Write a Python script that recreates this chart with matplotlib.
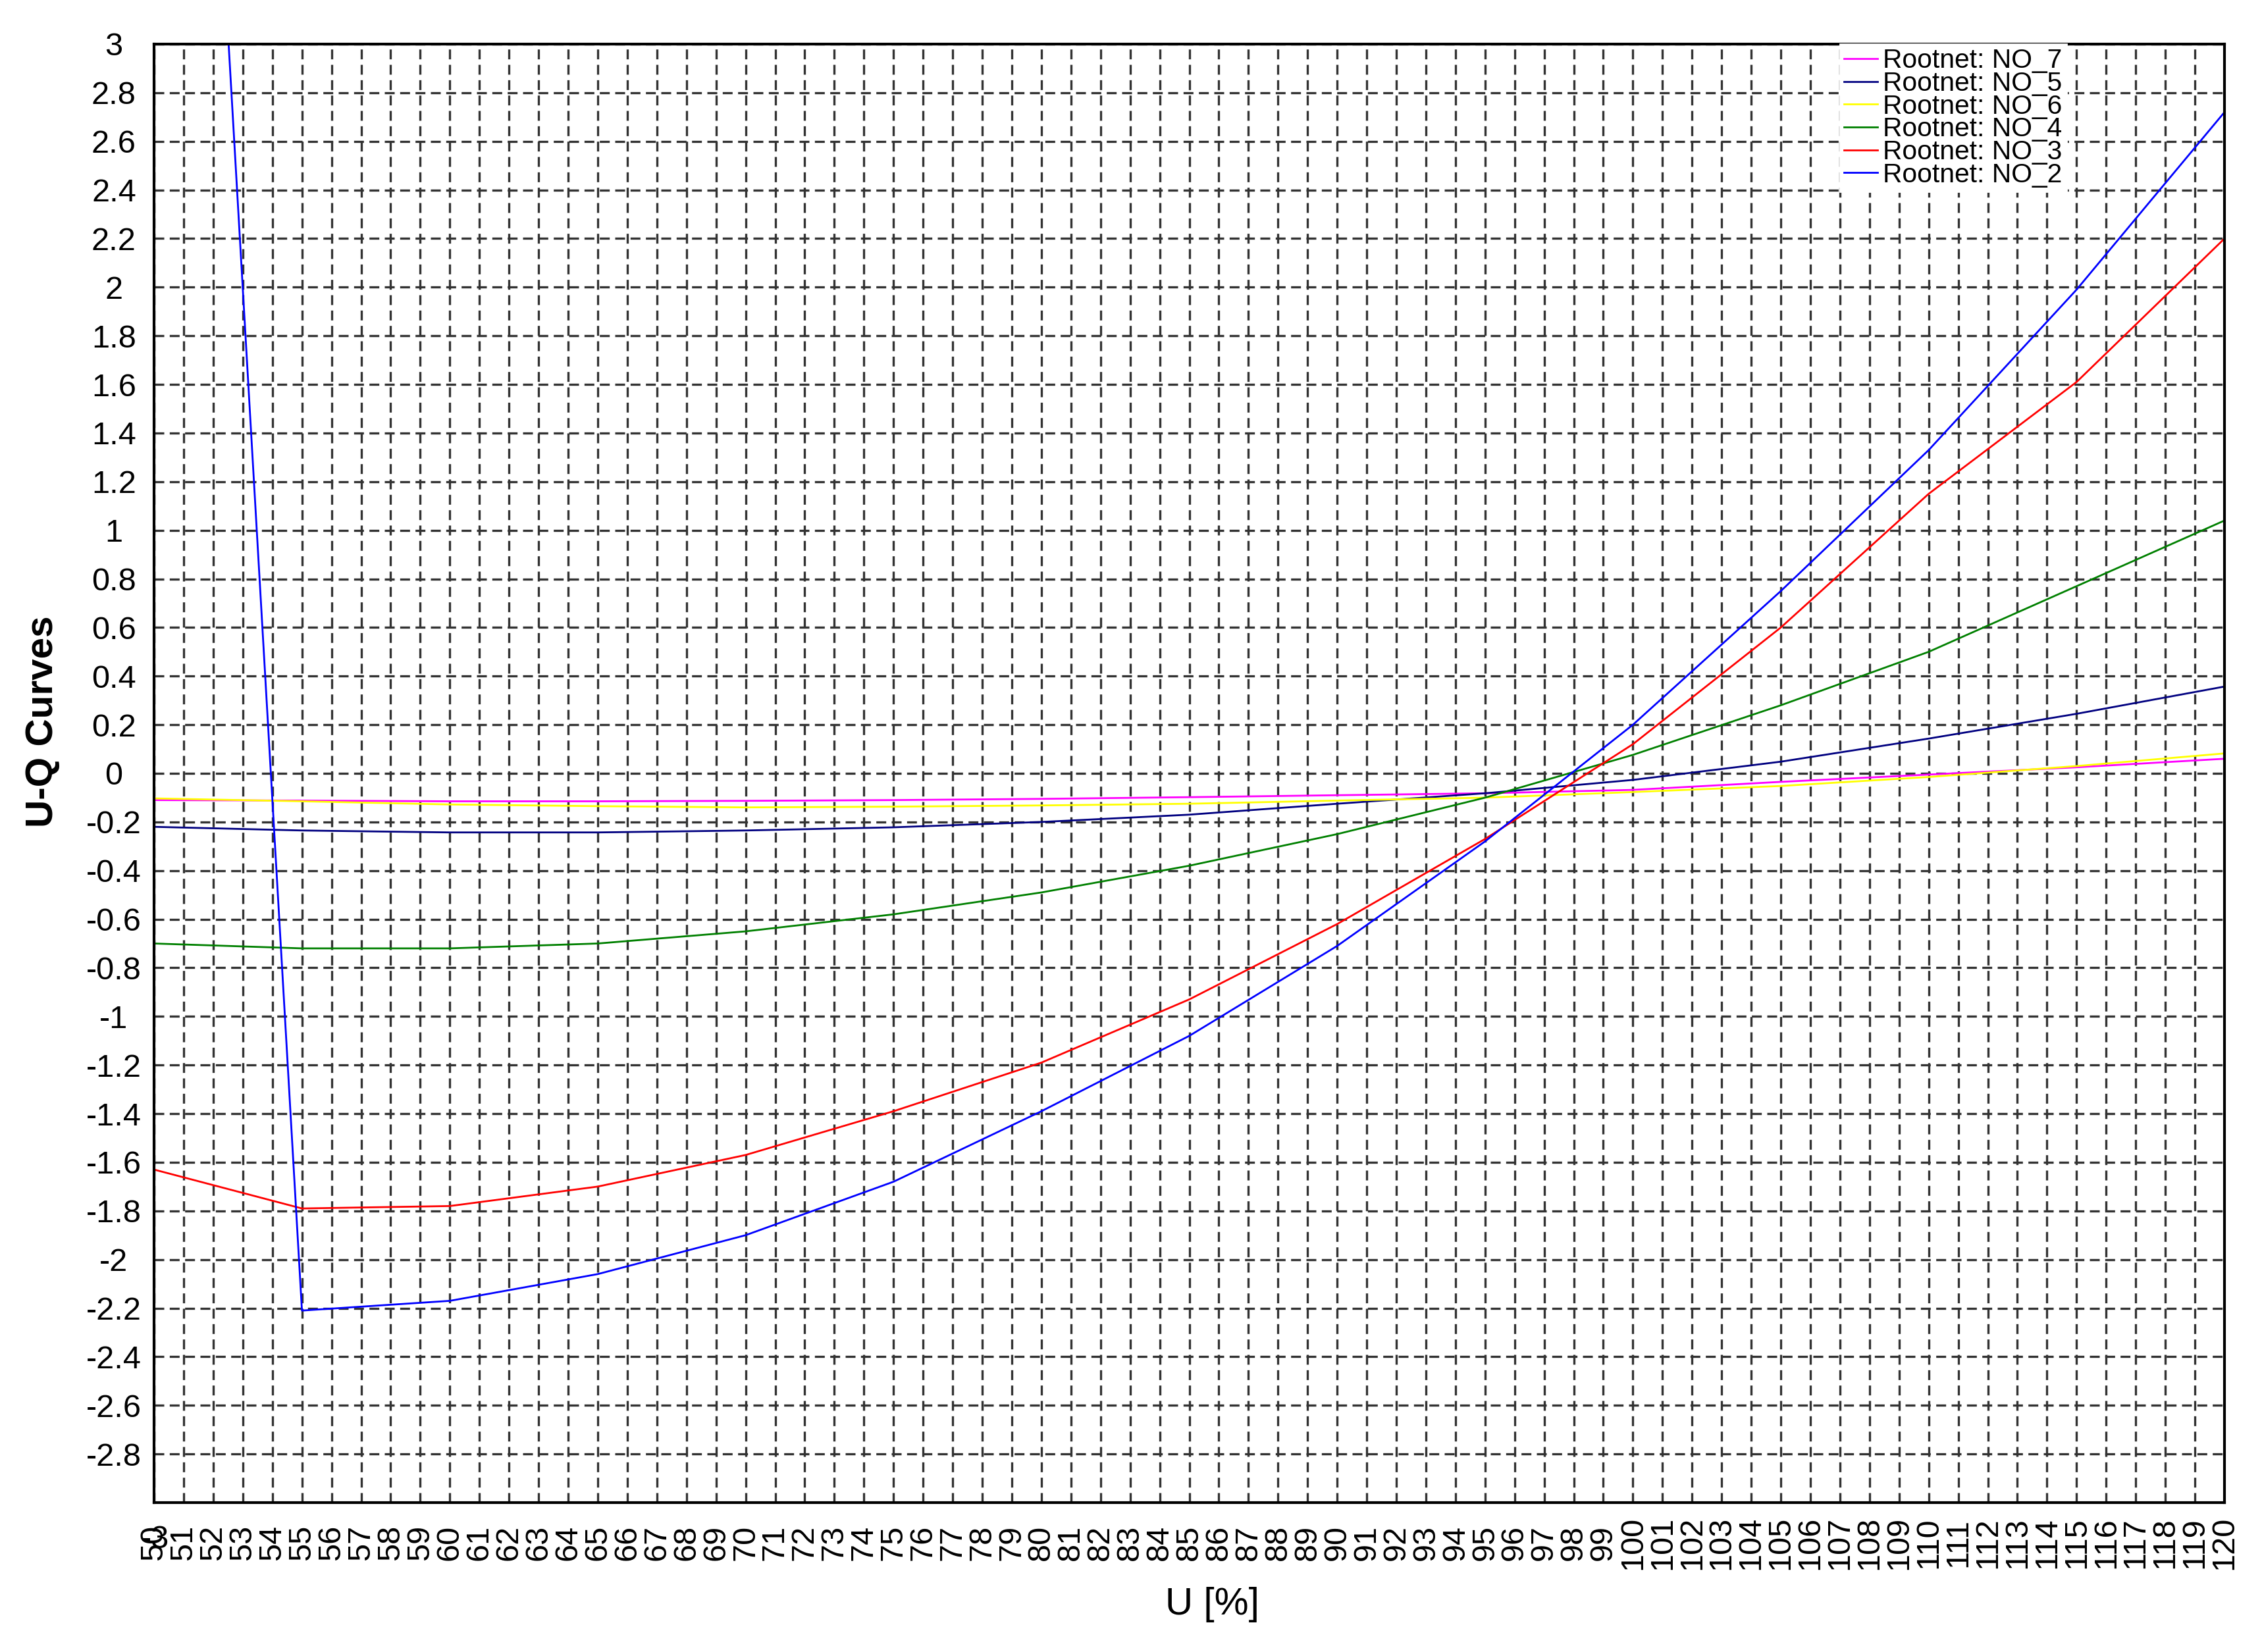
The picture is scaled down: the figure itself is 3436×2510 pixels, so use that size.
import numpy as np
import matplotlib
matplotlib.use("Agg")
import matplotlib.pyplot as plt

plt.rcParams['font.family'] = ['Liberation Sans', 'DejaVu Sans']

# --------------------
# Data
# --------------------
u_pct = [50, 55, 60, 65, 70, 75, 80, 85, 90, 95, 100, 105, 110, 115, 120]

q_no7 = [-0.11, -0.112, -0.115, -0.115, -0.113, -0.11, -0.105, -0.098, -0.09, -0.082, -0.068, -0.035, -0.005, 0.025, 0.06]
q_no5 = [-0.22, -0.235, -0.243, -0.243, -0.235, -0.222, -0.2, -0.17, -0.125, -0.082, -0.027, 0.048, 0.143, 0.245, 0.357]
q_no6 = [-0.103, -0.115, -0.128, -0.135, -0.14, -0.137, -0.132, -0.125, -0.112, -0.1, -0.077, -0.052, -0.015, 0.03, 0.082]
q_no4 = [-0.70, -0.72, -0.72, -0.70, -0.65, -0.58, -0.49, -0.38, -0.25, -0.10, 0.076, 0.28, 0.50, 0.77, 1.04]
q_no3 = [-1.63, -1.79, -1.78, -1.70, -1.57, -1.39, -1.19, -0.93, -0.62, -0.27, 0.12, 0.60, 1.15, 1.61, 2.20]
q_no2 = [8.3, -2.21, -2.17, -2.06, -1.90, -1.68, -1.39, -1.08, -0.71, -0.28, 0.20, 0.75, 1.33, 1.99, 2.72]

series = [
    ('Rootnet: NO_7', q_no7, '#FF00FF'),
    ('Rootnet: NO_5', q_no5, '#000080'),
    ('Rootnet: NO_6', q_no6, '#FFFF00'),
    ('Rootnet: NO_4', q_no4, '#008000'),
    ('Rootnet: NO_3', q_no3, '#FF0000'),
    ('Rootnet: NO_2', q_no2, '#0000FF'),
]

x_ticks = list(range(50, 121))
y_ticks = [round(v, 1) for v in np.arange(-3.0, 3.01, 0.2)]

# --------------------
# Figure
# --------------------
fig = plt.figure(figsize=(3437 / 200, 2510 / 200), dpi=200)
ax = fig.add_axes([234 / 3437, 1 - 2283 / 2510, (3379 - 234) / 3437, (2283 - 67) / 2510])

for name, q, col in series:
    ax.plot(u_pct, q, color=col, lw=1.0, label=name, zorder=3)

ax.set_xlim(50, 120)
ax.set_ylim(-3, 3)

ax.set_xticks(x_ticks)
ax.set_xticklabels([str(v) for v in x_ticks], rotation=90, va='center', ha='center')
ax.set_yticks(y_ticks)
ylabels = []
for v in y_ticks:
    if v == -3.0:
        ylabels.append('')
    else:
        ylabels.append('%g' % v)
ax.set_yticklabels(ylabels, ha='center')

ax.tick_params(axis='both', length=0, labelsize=17.5, pad=22)
ax.grid(True, color='#333333', lw=1.2, ls=(0, (4.5, 2.5)), zorder=1)
ax.set_axisbelow(True)
for sp in ax.spines.values():
    sp.set_linewidth(1.5)
    sp.set_color('black')
    sp.set_zorder(4)

# stray "-3" label that sits on top of the first x label in the original
fig.text(236 / 3437, 1 - 2340 / 2510, '-3', fontsize=17.5, ha='center', va='center')

fig.text(65 / 3437, 1 - 1096 / 2510, 'U-Q Curves', rotation=90, fontsize=21,
         fontweight='bold', ha='center', va='center')
fig.text(1841 / 3437, 1 - 2438 / 2510, 'U [%]', fontsize=21, ha='center', va='center')

leg = ax.legend(loc='upper left', bbox_to_anchor=(107, 3.0), bbox_transform=ax.transData,
                borderaxespad=0, borderpad=0.15, fontsize=14.7, labelspacing=-0.08,
                handlelength=1.25, handletextpad=0.2, frameon=True, fancybox=False,
                facecolor='white', edgecolor='white', framealpha=1)
leg.set_zorder(5)

fig.savefig('out.png', dpi=200, facecolor='white')
